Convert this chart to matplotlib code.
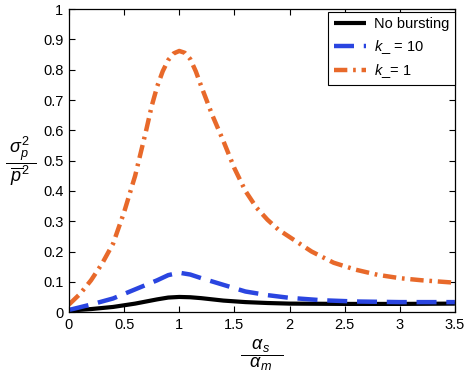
import matplotlib
matplotlib.use("Agg")
import matplotlib.pyplot as plt

plt.rcParams['font.family'] = ['Liberation Sans', 'DejaVu Sans']
plt.rcParams['mathtext.fontset'] = 'custom'
plt.rcParams['mathtext.rm'] = 'Liberation Sans'
plt.rcParams['mathtext.it'] = 'Liberation Sans:italic'
plt.rcParams['mathtext.sf'] = 'Liberation Sans'

# Data
x_black = [0.0, 0.2, 0.4, 0.6, 0.8, 0.9, 1.0, 1.1, 1.2, 1.4, 1.6, 1.8, 2.0, 2.5, 3.0, 3.5]
y_black = [0.005, 0.010, 0.017, 0.028, 0.042, 0.048, 0.050, 0.049, 0.046, 0.038, 0.033, 0.030, 0.028, 0.027, 0.027, 0.028]

x_blue = [0.0, 0.2, 0.4, 0.6, 0.8, 0.9, 1.0, 1.1, 1.2, 1.4, 1.6, 1.8, 2.0, 2.3, 2.6, 3.0, 3.5]
y_blue = [0.007, 0.025, 0.045, 0.075, 0.105, 0.122, 0.130, 0.124, 0.112, 0.090, 0.068, 0.056, 0.047, 0.039, 0.035, 0.033, 0.033]

x_orange = [0.0, 0.1, 0.2, 0.3, 0.4, 0.5, 0.6, 0.7, 0.75, 0.8, 0.85, 0.9, 0.95, 1.0, 1.05, 1.1, 1.15, 1.2,
            1.3, 1.4, 1.5, 1.6, 1.7, 1.8, 1.9, 2.0, 2.2, 2.4, 2.6, 2.8, 3.0, 3.2, 3.5]
y_orange = [0.025, 0.060, 0.105, 0.160, 0.226, 0.330, 0.450, 0.600, 0.680, 0.745, 0.795, 0.832, 0.854, 0.862, 0.856,
            0.835, 0.795, 0.745, 0.650, 0.565, 0.475, 0.400, 0.345, 0.305, 0.272, 0.248, 0.200, 0.163, 0.140, 0.123,
            0.112, 0.105, 0.097]

labels = ['No bursting', r'$k$_ = 10', r'$k$_= 1']
xticks = [0, 0.5, 1, 1.5, 2, 2.5, 3, 3.5]
xticklabels = ['0', '0.5', '1', '1.5', '2', '2.5', '3', '3.5']
yticks = [0, 0.1, 0.2, 0.3, 0.4, 0.5, 0.6, 0.7, 0.8, 0.9, 1.0]
yticklabels = ['0', '0.1', '0.2', '0.3', '0.4', '0.5', '0.6', '0.7', '0.8', '0.9', '1']

c_blue = '#2a45e0'
c_orange = '#e8692a'

fig = plt.figure(figsize=(4.68, 3.82), dpi=100)
ax = fig.add_axes([0.1474, 0.183, 0.8246, 0.793])

ax.plot(x_black, y_black, color='black', lw=3.0, solid_capstyle='butt', solid_joinstyle='round', label=labels[0])
ax.plot(x_blue, y_blue, color=c_blue, lw=3.2, dashes=(4.5, 2.2), dash_capstyle='butt', label=labels[1])
ax.plot(x_orange, y_orange, color=c_orange, lw=3.2, dashes=(3.0, 1.3, 0.6, 1.3), dash_capstyle='butt', label=labels[2])

ax.set_xlim(0, 3.5)
ax.set_ylim(0, 1)
ax.set_xticks(xticks)
ax.set_xticklabels(xticklabels)
ax.set_yticks(yticks)
ax.set_yticklabels(yticklabels)
ax.tick_params(direction='in', top=True, right=True, labelsize=10.5, length=4, width=0.8, pad=4)
for s in ax.spines.values():
    s.set_linewidth(0.9)

ax.set_xlabel(r'$\dfrac{\ \ \alpha_s\ \ }{\ \ \alpha_m\ \ }$', fontsize=13, labelpad=4)
ax.set_ylabel(r'$\dfrac{\ \sigma_p^2\ }{\ \overline{p}^2\ }$', fontsize=13, rotation=0, labelpad=16, va='center')

leg = ax.legend(loc='upper right', bbox_to_anchor=(1.0, 0.99), fontsize=10.5, frameon=True, fancybox=False,
                edgecolor='black', framealpha=1, borderpad=0.35, labelspacing=0.45, handlelength=2.2,
                handletextpad=0.6, borderaxespad=0.0)
leg.get_frame().set_linewidth(0.8)

fig.savefig('out.png', dpi=100)
